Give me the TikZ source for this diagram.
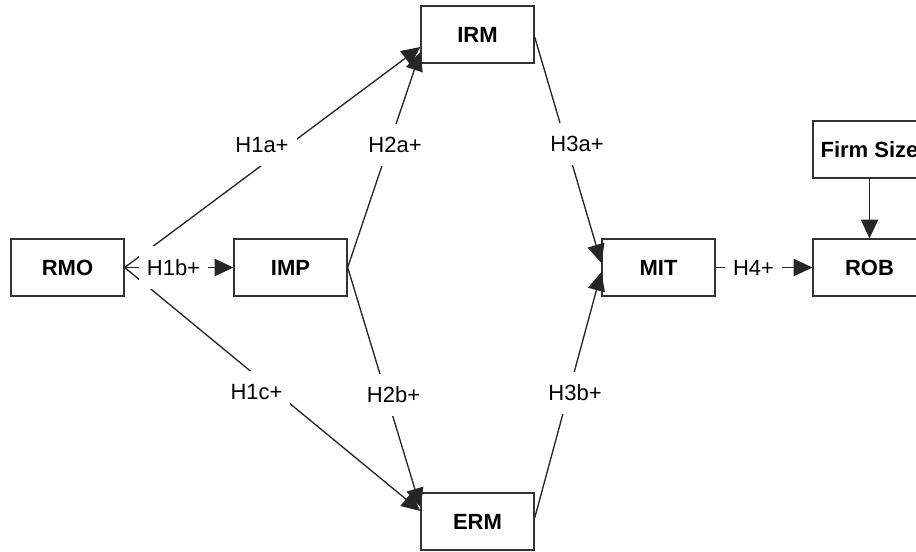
\documentclass[tikz,border=0pt]{standalone}
\usepackage{fontspec}
\setmainfont{Liberation Sans}
\usetikzlibrary{arrows.meta,calc}
\begin{document}
\begin{tikzpicture}[x=0.75pt,y=-0.75pt,
  box/.style={draw=black!80,line width=1pt,fill=white,minimum width=84.75pt,minimum height=42.75pt,inner sep=0pt,font=\fontsize{16.5pt}{19.8pt}\selectfont\bfseries},
  lbl/.style={fill=white,inner xsep=6pt,inner ysep=0pt,minimum height=32pt,font=\fontsize{16.5pt}{19.8pt}\selectfont},
  conn/.style={draw=black!85,line width=1pt,-{Triangle[length=14pt,width=13pt]}},
  plainline/.style={draw=black!85,line width=1pt}]
\useasboundingbox (0,0) rectangle (916,552);
\clip (0,0) rectangle (916,552);

\node[box] (RMO) at (67.5,267.5) {RMO};
\node[box] (IMP) at (290.5,267.5) {IMP};
\node[box] (IRM) at (477.5,34.5) {IRM};
\node[box] (ERM) at (477.5,521.5) {ERM};
\node[box] (MIT) at (658.5,267.5) {MIT};
\node[box] (ROB) at (869.5,267.5) {ROB};
\node[box] (FS) at (869.5,149.5) {Firm Size};

\draw[conn] (RMO.east) -- ($(IRM.west)+(0,12.5)$);
\draw[conn] (IMP.east) -- ($(IRM.west)+(0,17.5)$);
\draw[conn] (RMO.east) -- ($(ERM.west)+(0,-10.5)$);
\draw[conn] (IMP.east) -- ($(ERM.west)+(0,-14.5)$);
\draw[conn] (RMO.east) -- (IMP.west);
\draw[conn] ($(IRM.east)+(0,2.5)$) -- ($(MIT.west)+(0,-4.5)$);
\draw[conn] ($(ERM.east)+(0,-3.5)$) -- ($(MIT.west)+(0,4.5)$);
\draw[conn] (MIT.east) -- (ROB.west);
\draw[conn] (FS.south) -- (ROB.north);

\node[lbl] (lH1a) at (262,145) {H1a+};
\node[lbl] (lH1b) at (173.5,267.5) {H1b+};
\node[lbl] (lH1c) at (256.5,392) {H1c+};
\node[lbl] (lH2a) at (395,145) {H2a+};
\node[lbl] (lH2b) at (393.5,395) {H2b+};
\node[lbl] (lH3a) at (577,144) {H3a+};
\node[lbl] (lH3b) at (575,393) {H3b+};
\node[lbl] (lH4) at (753.5,267.5) {H4+};
\end{tikzpicture}
\end{document}
